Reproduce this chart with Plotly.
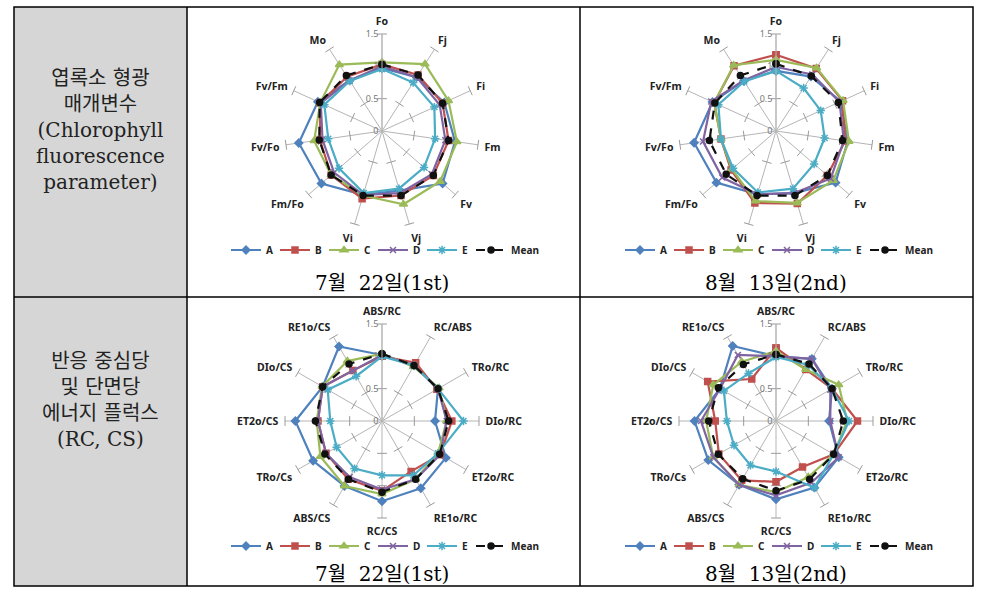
import plotly.graph_objects as go

W, H = 989, 592

# axis categories (clockwise from top)
chl_axes = ["Fo", "Fj", "Fi", "Fm", "Fv", "Vj", "Vi", "Fm/Fo", "Fv/Fo", "Fv/Fm", "Mo"]
flux_axes = ["ABS/RC", "RC/ABS", "TRo/RC", "DIo/RC", "ET2o/RC", "RE1o/RC",
             "RC/CS", "ABS/CS", "TRo/Cs", "ET2o/CS", "DIo/CS", "RE1o/CS"]

series_names = ["A", "B", "C", "D", "E", "Mean"]
radial_ticks = [0, 0.5, 1, 1.5]

# chlorophyll fluorescence parameters, 7/22 (1st)
chl_1st_A = [0.97, 0.99, 1.06, 1.14, 1.24, 0.96, 1.03, 1.24, 1.30, 1.09, 0.93]
chl_1st_B = [1.03, 1.03, 1.03, 1.04, 1.05, 1.04, 1.09, 1.04, 0.97, 1.05, 1.00]
chl_1st_C = [1.06, 1.23, 1.13, 1.17, 1.19, 1.18, 1.04, 1.04, 1.06, 1.05, 1.22]
chl_1st_D = [1.00, 0.99, 0.98, 0.99, 1.02, 1.00, 1.03, 0.98, 0.93, 1.04, 0.93]
chl_1st_E = [0.96, 0.89, 0.89, 0.83, 0.86, 0.93, 1.00, 0.88, 0.84, 0.98, 0.92]
chl_1st_Mean = [1.03, 1.03, 1.03, 1.04, 1.05, 1.04, 1.04, 1.04, 0.98, 1.06, 1.02]

# chlorophyll fluorescence parameters, 8/13 (2nd)
chl_2nd_A = [0.93, 1.00, 1.10, 1.12, 1.22, 1.00, 1.02, 1.22, 1.28, 1.08, 0.92]
chl_2nd_B = [1.18, 1.15, 1.13, 1.08, 1.05, 1.17, 1.16, 0.92, 0.86, 1.05, 1.20]
chl_2nd_C = [1.10, 1.16, 1.14, 1.14, 1.17, 1.16, 1.13, 0.90, 0.86, 1.05, 1.21]
chl_2nd_D = [0.99, 1.04, 1.08, 1.06, 1.12, 1.00, 1.02, 1.10, 1.14, 1.10, 0.93]
chl_2nd_E = [0.93, 0.79, 0.76, 0.76, 0.78, 0.93, 0.99, 0.88, 0.86, 0.98, 0.91]
chl_2nd_Mean = [1.04, 1.01, 1.06, 1.04, 1.05, 1.04, 1.04, 1.02, 1.04, 1.04, 1.02]

# energy fluxes per RC / CS, 7/22 (1st)
flux_1st_A = [1.02, 0.99, 1.00, 0.82, 1.14, 1.20, 1.24, 1.16, 1.23, 1.34, 1.06, 1.33]
flux_1st_B = [1.00, 1.04, 0.98, 1.08, 1.04, 0.90, 1.08, 1.04, 1.00, 0.99, 1.06, 0.90]
flux_1st_C = [1.04, 0.97, 1.02, 1.00, 1.00, 1.04, 1.13, 1.16, 1.10, 1.01, 1.07, 1.07]
flux_1st_D = [1.02, 0.99, 1.00, 1.00, 1.04, 1.04, 1.06, 1.00, 1.00, 0.99, 1.06, 0.90]
flux_1st_E = [1.00, 0.99, 1.00, 1.26, 1.00, 0.97, 0.84, 0.85, 0.81, 0.80, 0.97, 0.80]
flux_1st_Mean = [1.04, 0.99, 1.00, 1.03, 1.03, 1.04, 1.10, 1.04, 1.02, 1.03, 1.06, 1.02]

# energy fluxes per RC / CS, 8/13 (2nd)
flux_2nd_A = [1.00, 1.11, 1.00, 0.82, 1.12, 1.19, 1.21, 1.14, 1.21, 1.26, 1.00, 1.34]
flux_2nd_B = [1.13, 0.92, 1.00, 1.26, 1.03, 0.82, 0.94, 1.06, 1.02, 0.94, 1.22, 0.75]
flux_2nd_C = [1.08, 0.92, 1.12, 1.10, 1.03, 1.00, 1.10, 1.14, 1.12, 1.08, 1.12, 1.06]
flux_2nd_D = [1.00, 1.11, 0.97, 0.84, 1.12, 1.10, 1.15, 1.14, 1.12, 1.16, 1.00, 1.18]
flux_2nd_E = [0.99, 1.00, 1.00, 1.13, 1.03, 1.19, 0.78, 0.79, 0.75, 0.76, 0.93, 0.85]
flux_2nd_Mean = [1.03, 1.02, 1.00, 1.04, 1.03, 1.04, 1.08, 1.03, 1.03, 1.04, 1.03, 1.01]

date_1st = "7월\u00a0\u00a022일(1st)"
date_2nd = "8월\u00a0\u00a013일(2nd)"
row_labels = ["엽록소 형광<br>매개변수<br>(Chlorophyll<br>fluorescence<br>parameter)",
              "반응 중심당<br>및 단면당<br>에너지 플럭스<br>(RC, CS)"]

# excel-ish look per series
styles = {
    "A": dict(color="#4F81BD", symbol="diamond", size=6, dash="solid"),
    "B": dict(color="#C0504D", symbol="square", size=6, dash="solid"),
    "C": dict(color="#9BBB59", symbol="triangle-up", size=7, dash="solid"),
    "D": dict(color="#8064A2", symbol="x-thin-open", size=6, dash="solid"),
    "E": dict(color="#4BACC6", symbol="asterisk-open", size=7, dash="solid"),
    "Mean": dict(color="#111111", symbol="circle", size=6, dash="dash"),
}

serif = "DejaVu Serif, Noto Sans CJK KR, serif"


def px(x):
    return x / W


def py(y):
    return 1 - y / H


panels = [
    # polar id, legend id, axes, data, center (px), date label, date y, legend y
    ("polar", "legend", chl_axes,
     [chl_1st_A, chl_1st_B, chl_1st_C, chl_1st_D, chl_1st_E, chl_1st_Mean], (382, 131), date_1st, 283, 250),
    ("polar2", "legend2", chl_axes,
     [chl_2nd_A, chl_2nd_B, chl_2nd_C, chl_2nd_D, chl_2nd_E, chl_2nd_Mean], (776, 131), date_2nd, 283, 250),
    ("polar3", "legend3", flux_axes,
     [flux_1st_A, flux_1st_B, flux_1st_C, flux_1st_D, flux_1st_E, flux_1st_Mean], (382, 421), date_1st, 574, 546),
    ("polar4", "legend4", flux_axes,
     [flux_2nd_A, flux_2nd_B, flux_2nd_C, flux_2nd_D, flux_2nd_E, flux_2nd_Mean], (776, 421), date_2nd, 574, 546),
]
R = 97

fig = go.Figure()
layout = {}
annotations = []

for polar_id, legend_id, axes, data, (cx, cy), date, date_y, leg_y in panels:
    n = len(axes)

    # small tick marks across every spoke, like excel draws them
    tick_theta, tick_r, tick_ang = [], [], []
    for v in radial_ticks[1:]:
        for i, a in enumerate(axes):
            tick_theta.append(a)
            tick_r.append(v)
            tick_ang.append(i * 360 / n)
    fig.add_trace(go.Scatterpolar(
        r=tick_r, theta=tick_theta, mode="markers", subplot=polar_id,
        marker=dict(symbol="line-ew", size=7, angle=tick_ang,
                    line=dict(color="#9A9A9A", width=1)),
        showlegend=False, hoverinfo="skip", cliponaxis=False, legend=legend_id,
    ))

    for name, vals in zip(series_names, data):
        st = styles[name]
        fig.add_trace(go.Scatterpolar(
            r=vals + vals[:1], theta=axes + axes[:1], name=name,
            mode="lines+markers", subplot=polar_id, legend=legend_id,
            legendwidth=32 if name == "Mean" else None,
            line=dict(color=st["color"], width=2.2, dash=st["dash"]),
            marker=dict(symbol=st["symbol"], size=st["size"], color=st["color"],
                        line=dict(color=st["color"], width=1.5)),
        ))

    layout[polar_id] = dict(
        domain=dict(x=[px(cx - R), px(cx + R)], y=[py(cy + R), py(cy - R)]),
        bgcolor="rgba(0,0,0,0)",
        angularaxis=dict(direction="clockwise", rotation=90, showline=False,
                         showgrid=True, gridcolor="#B5B5B5", gridwidth=1,
                         ticks="outside", ticklen=4, tickcolor="rgba(0,0,0,0)",
                         tickfont=dict(family="Noto Sans, Arial", size=10.5, color="#222222", weight="bold")),
        radialaxis=dict(range=[0, 1.5], tickvals=radial_ticks, showgrid=False,
                        showline=True, linecolor="#B5B5B5", linewidth=1, angle=90,
                        tickangle=90, ticks="", side="counterclockwise",
                        tickfont=dict(family="Noto Sans, Arial", size=9, color="#777777")),
    )

    layout[legend_id] = dict(
        orientation="h", x=px(cx + 5), y=py(leg_y),
        xanchor="center", yanchor="middle", bgcolor="rgba(0,0,0,0)",
        font=dict(family="Noto Sans, Arial", size=10, color="#222222", weight="bold"),
        itemwidth=30, tracegroupgap=0, entrywidth=4, entrywidthmode="pixels",
    )

    annotations.append(dict(
        text=date, x=px(cx), y=py(date_y), xref="paper", yref="paper",
        showarrow=False, xanchor="center", yanchor="middle",
        font=dict(family=serif, size=20, color="black"),
    ))

for text, yc in zip(row_labels, [130, 400]):
    annotations.append(dict(
        text=text, x=px(100), y=py(yc), xref="paper", yref="paper",
        showarrow=False, xanchor="center", yanchor="middle",
        font=dict(family=serif, size=20, color="#222222"),
    ))

# table frame
left, right, top, bottom = 14, 973, 7, 586
col1, col2, mid = 187, 580, 297
line = dict(color="black", width=1.5)
shapes = [
    dict(type="rect", xref="paper", yref="paper", x0=px(left), x1=px(col1),
         y0=py(bottom), y1=py(top), fillcolor="#D6D6D6", line=dict(width=0), layer="below"),
    dict(type="rect", xref="paper", yref="paper", x0=px(left), x1=px(right),
         y0=py(bottom), y1=py(top), line=line),
    dict(type="line", xref="paper", yref="paper", x0=px(col1), x1=px(col1),
         y0=py(bottom), y1=py(top), line=line),
    dict(type="line", xref="paper", yref="paper", x0=px(col2), x1=px(col2),
         y0=py(bottom), y1=py(top), line=line),
    dict(type="line", xref="paper", yref="paper", x0=px(left), x1=px(right),
         y0=py(mid), y1=py(mid), line=line),
]

fig.update_layout(
    width=W, height=H, autosize=False,
    margin=dict(l=0, r=0, t=0, b=0),
    paper_bgcolor="white", plot_bgcolor="white",
    showlegend=True, annotations=annotations, shapes=shapes,
    **layout,
)

# drop the default page margin so the figure sits at the window origin
fig.write_html("out.html", config={"displayModeBar": False},
               post_script="document.body.style.margin='0';")
